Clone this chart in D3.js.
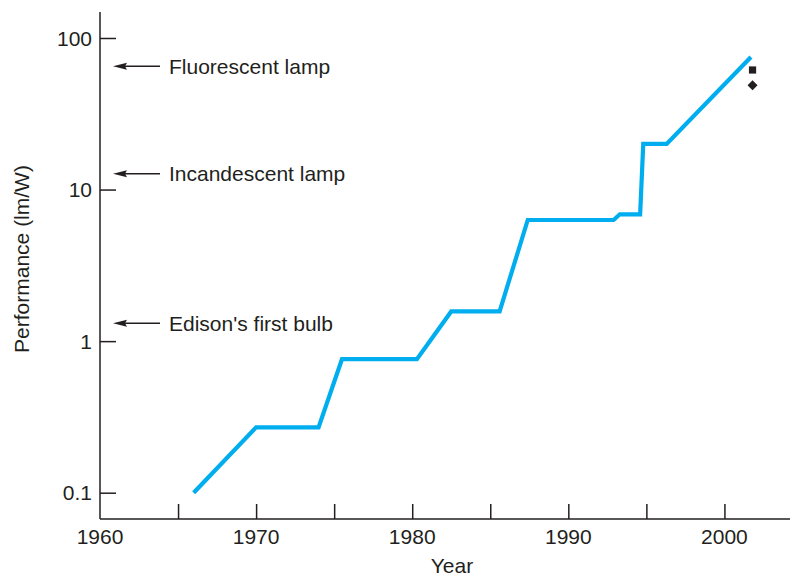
<!DOCTYPE html>
<html>
<head>
<meta charset="utf-8">
<script src="https://cdn.jsdelivr.net/npm/d3@7/dist/d3.min.js"></script>
<style>
  html, body { margin: 0; padding: 0; background: #fff; }
  svg text { font-family: "Liberation Sans", Arial, Helvetica, sans-serif; fill: #231f20; }
</style>
</head>
<body>
<svg id="chart" width="792" height="577"></svg>
<script>
// Luminous efficacy of LEDs over time (lm/W), stepwise record line
const years = [1966, 1970, 1974, 1975.5, 1980.3, 1982.5, 1985.6, 1987.4, 1992.9, 1993.3, 1994.6, 1994.8, 1996.3, 2001.7];
const efficacy = [0.1, 0.27, 0.27, 0.76, 0.76, 1.57, 1.57, 6.3, 6.3, 6.87, 6.87, 20, 20, 75];

// Isolated markers near 2002
const squareMark = { year: 2001.8, value: 61.5 };
const diamondMark = { year: 2001.8, value: 48.7 };

// Reference light sources shown with arrows on the left
const references = ["Fluorescent lamp", "Incandescent lamp", "Edison's first bulb"];
const referenceValues = [65, 12.7, 1.31];

const xTickYears = [1965, 1970, 1975, 1980, 1985, 1990, 1995, 2000];
const xLabelYears = [1960, 1970, 1980, 1990, 2000];
const yTickValues = [100, 10, 1, 0.1];
const yTickLabels = ["100", "10", "1", "0.1"];

const ink = "#231f20";
const svg = d3.select("#chart");

const x = d3.scaleLinear().domain([1960, 2004.2]).range([100, 790]);
const y = d3.scaleLog().domain([Math.pow(10, -1.1735), Math.pow(10, 2.1715)]).range([519, 12]);

// Axes
const xAxis = d3.axisBottom(x).tickValues(xTickYears).tickSize(-15).tickFormat("");
const gx = svg.append("g").attr("transform", `translate(0,${y.range()[0]})`).call(xAxis);
gx.select(".domain").attr("d", `M${x.range()[0]},0H${x.range()[1]}`);

const yAxis = d3.axisLeft(y).tickValues(yTickValues).tickSize(-16).tickFormat("");
const gy = svg.append("g").attr("transform", `translate(${x.range()[0]},0)`).call(yAxis);
gy.select(".domain").attr("d", `M0,${y.range()[0]}V${y.range()[1]}`);

svg.selectAll(".domain, .tick line").attr("stroke", ink).attr("stroke-width", 1.5);

// Tick labels
svg.append("g").selectAll("text").data(xLabelYears).join("text")
  .attr("x", d => x(d)).attr("y", 544)
  .attr("text-anchor", "middle")
  .style("font-size", "21px")
  .text(d => d);

svg.append("g").selectAll("text").data(yTickValues).join("text")
  .attr("x", 92).attr("y", d => y(d))
  .attr("dy", "0.36em")
  .attr("text-anchor", "end")
  .style("font-size", "21px")
  .text((d, i) => yTickLabels[i]);

// Axis titles
svg.append("text")
  .attr("x", 452).attr("y", 573)
  .attr("text-anchor", "middle")
  .style("font-size", "21px")
  .text("Year");

svg.append("text")
  .attr("transform", "translate(29,259) rotate(-90)")
  .attr("text-anchor", "middle")
  .style("font-size", "21px")
  .text("Performance (lm/W)");

// Reference arrows pointing at the y axis
const refG = svg.append("g").selectAll("g").data(referenceValues).join("g")
  .attr("transform", d => `translate(0,${y(d)})`);
refG.append("line")
  .attr("x1", 122).attr("x2", 160)
  .attr("y1", 0).attr("y2", 0)
  .attr("stroke", ink).attr("stroke-width", 1.5);
refG.append("path")
  .attr("d", "M113,0L127,-3.5L125,0L127,3.5Z")
  .attr("fill", ink);
refG.append("text")
  .attr("x", 169).attr("y", 0)
  .attr("dy", "0.36em")
  .style("font-size", "21px")
  .text((d, i) => references[i]);

// Record line
const line = d3.line().x(d => x(d[0])).y(d => y(d[1]));
svg.append("path")
  .datum(years.map((yr, i) => [yr, efficacy[i]]))
  .attr("d", line)
  .attr("fill", "none")
  .attr("stroke", "#00aeef")
  .attr("stroke-width", 4.2)
  .attr("stroke-linejoin", "miter")
  .attr("stroke-linecap", "butt");

// Markers
svg.append("path")
  .attr("d", d3.symbol(d3.symbolSquare, 52)())
  .attr("transform", `translate(${x(squareMark.year)},${y(squareMark.value)})`)
  .attr("fill", ink);
svg.append("path")
  .attr("d", d3.symbol(d3.symbolSquare, 50)())
  .attr("transform", `translate(${x(diamondMark.year)},${y(diamondMark.value)}) rotate(45)`)
  .attr("fill", ink);
</script>
</body>
</html>
